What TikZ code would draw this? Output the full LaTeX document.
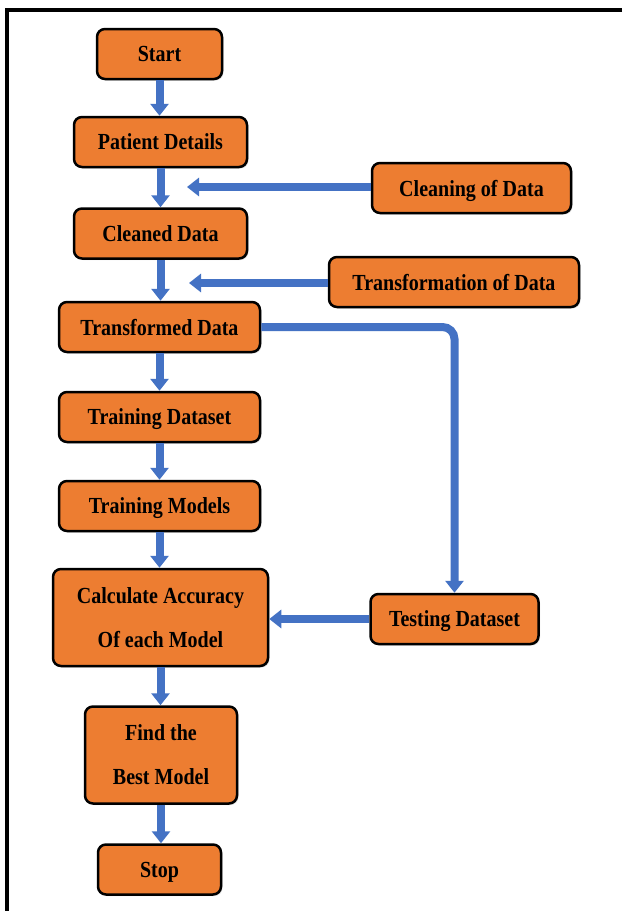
\documentclass[tikz,border=0pt]{standalone}
\usepackage{fontspec}
\setmainfont{Liberation Serif}[FakeStretch=0.87]
\usetikzlibrary{arrows.meta,shadows}
\definecolor{boxorange}{HTML}{ED7D31}
\definecolor{arrowblue}{HTML}{4472C4}
\begin{document}
\begin{tikzpicture}[x=1pt,y=-1pt,
  box/.style={draw=black, line width=2.5pt, fill=boxorange, rounded corners=8pt,
    inner sep=0pt, align=center, text depth=0pt, font=\bfseries\fontsize{23}{44}\selectfont,
    drop shadow={opacity=0.25, shadow xshift=1.5pt, shadow yshift=-1.5pt}},
  flow/.style={draw=arrowblue, line width=8pt, -{Triangle[width=18pt,length=12pt]}},
]
\useasboundingbox (0,0) rectangle (622,911);
\fill[white] (0,0) rectangle (622,911);
\draw[line width=4pt] (622,9.5) -- (7,9.5) -- (7,911);

\node[box, minimum width=125pt, minimum height=50pt] (start) at (159.5,54) {Start};
\node[box, minimum width=173pt, minimum height=50pt] (patient) at (160.5,142) {Patient Details};
\node[box, minimum width=199pt, minimum height=50pt] (cleaning) at (471.5,188) {Cleaning of Data};
\node[box, minimum width=173pt, minimum height=50pt] (cleaned) at (160.5,233.5) {Cleaned Data};
\node[box, minimum width=250pt, minimum height=50pt] (transformation) at (454,282) {Transformation of Data};
\node[box, minimum width=201pt, minimum height=50pt] (transformed) at (159.5,327) {Transformed Data};
\node[box, minimum width=201pt, minimum height=50pt] (trainds) at (159.5,417) {Training Dataset};
\node[box, minimum width=201pt, minimum height=50pt] (trainmod) at (159.5,506) {Training Models};
\node[box, minimum width=215pt, minimum height=97pt] (calc) at (160.5,617.5) {Calculate Accuracy\\Of each Model};
\node[box, minimum width=168pt, minimum height=50pt] (testing) at (454.5,619) {Testing Dataset};
\node[box, minimum width=152pt, minimum height=97pt] (best) at (161,755) {Find the\\Best Model};
\node[box, minimum width=123pt, minimum height=50pt] (stop) at (159.5,869.5) {Stop};

\coordinate (c1) at (187,187);
\coordinate (c2) at (189,283);

\draw[flow] (start.south) -- (start.south |- patient.north);
\draw[flow] (patient.south) -- (patient.south |- cleaned.north);
\draw[flow] (cleaned.south) -- (cleaned.south |- transformed.north);
\draw[flow] (transformed.south) -- (transformed.south |- trainds.north);
\draw[flow] (trainds.south) -- (trainds.south |- trainmod.north);
\draw[flow] (trainmod.south) -- (trainmod.south |- calc.north);
\draw[flow] (calc.south) -- (calc.south |- best.north);
\draw[flow] (best.south) -- (best.south |- stop.north);

\draw[flow] (cleaning.west |- c1) -- (c1);
\draw[flow] (transformation.west |- c2) -- (c2);
\draw[flow, rounded corners=12pt] (transformed.east) -- (testing.north |- transformed.east) -- (testing.north);
\draw[flow] (testing.west) -- (calc.east |- testing.west);
\end{tikzpicture}
\end{document}
